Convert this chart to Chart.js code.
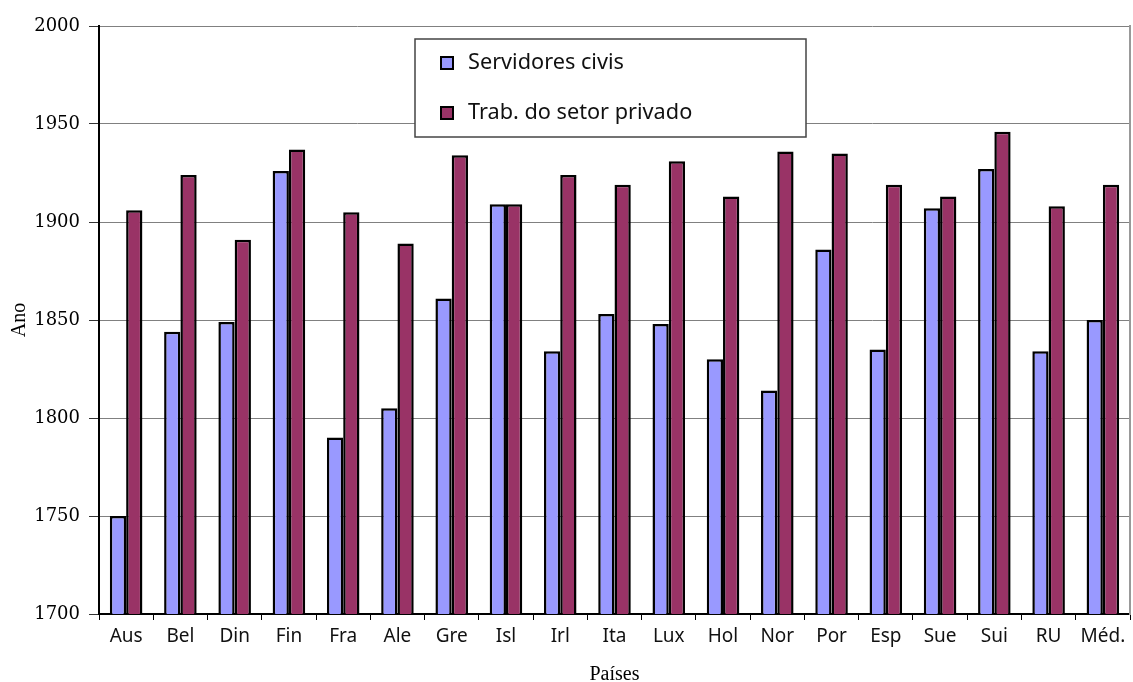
<!DOCTYPE html>
<html>
<head>
<meta charset="utf-8">
<script src="https://cdn.jsdelivr.net/npm/chart.js@4/dist/chart.umd.min.js"></script>
<style>
  html, body { margin: 0; padding: 0; background: #fff; }
  #wrap { width: 1133px; height: 682px; }
</style>
</head>
<body>
<div id="wrap"><canvas id="c" width="1133" height="682"></canvas></div>
<script>
// Países (categorias do eixo x)
const paises = ['Aus', 'Bel', 'Din', 'Fin', 'Fra', 'Ale', 'Gre', 'Isl', 'Irl', 'Ita',
                'Lux', 'Hol', 'Nor', 'Por', 'Esp', 'Sue', 'Sui', 'RU', 'Méd.'];

// Ano de referência por grupo
const servidoresCivis = [1750, 1844, 1849, 1926, 1790, 1805, 1861, 1909, 1834, 1853,
                         1848, 1830, 1814, 1886, 1835, 1907, 1927, 1834, 1850];
const setorPrivado    = [1906, 1924, 1891, 1937, 1905, 1889, 1934, 1909, 1924, 1919,
                         1931, 1913, 1936, 1935, 1919, 1913, 1946, 1908, 1919];

// Escala do eixo y
const anoMin = 1700;
const anoMax = 2000;
const anoPasso = 50;

const sansFont = "'Noto Sans', 'Open Sans', sans-serif";
const serifFont = "'Liberation Serif', 'DejaVu Serif', serif";
const serifWide = "'DejaVu Serif', 'Liberation Serif', serif";

// Legenda em caixa desenhada dentro da área do gráfico
const legendaCaixa = {
  id: 'legendaCaixa',
  afterDraw(chart) {
    const ctx = chart.ctx;
    const x = 415, y = 39, w = 391, h = 98;
    ctx.save();
    ctx.fillStyle = '#ffffff';
    ctx.fillRect(x, y, w, h);
    ctx.strokeStyle = '#444';
    ctx.lineWidth = 1.5;
    ctx.strokeRect(x, y, w, h);
    ctx.font = '21.7px ' + sansFont;
    ctx.textBaseline = 'middle';
    chart.data.datasets.forEach((ds, i) => {
      const cy = y + 24 + i * 50;
      ctx.fillStyle = ds.backgroundColor;
      ctx.fillRect(x + 26, cy - 6, 12, 12);
      ctx.strokeStyle = '#000';
      ctx.lineWidth = 2;
      ctx.strokeRect(x + 26, cy - 6, 12, 12);
      ctx.fillStyle = '#111';
      ctx.fillText(ds.label, x + 53, cy);
    });
    ctx.restore();
  }
};

new Chart(document.getElementById('c'), {
  type: 'bar',
  data: {
    labels: paises,
    datasets: [
      {
        label: 'Servidores civis',
        data: servidoresCivis,
        backgroundColor: '#9999FF',
        borderColor: '#000',
        borderWidth: 2.5,
        borderSkipped: 'bottom'
      },
      {
        label: 'Trab. do setor privado',
        data: setorPrivado,
        backgroundColor: '#993366',
        borderColor: '#000',
        borderWidth: 2.5,
        borderSkipped: 'bottom'
      }
    ]
  },
  options: {
    responsive: false,
    animation: false,
    layout: { padding: { top: 26, right: 3, left: 8, bottom: 0 } },
    datasets: { bar: { categoryPercentage: 0.6, barPercentage: 1.0 } },
    plugins: {
      legend: { display: false },
      tooltip: { enabled: false }
    },
    scales: {
      x: {
        afterFit: (s) => { s.height = 68; },
        grid: {
          display: true,
          drawOnChartArea: false,
          drawTicks: true,
          tickLength: 6,
          color: '#000',
          lineWidth: 1
        },
        border: { display: true, color: '#000', width: 2 },
        ticks: {
          color: '#111',
          font: { family: sansFont, size: 19 },
          padding: 5,
          maxRotation: 0,
          autoSkip: false
        },
        title: {
          display: true,
          text: 'Países',
          color: '#000',
          font: { family: serifFont, size: 20, lineHeight: 1 },
          padding: { top: 0, bottom: -3 }
        }
      },
      y: {
        afterFit: (s) => { s.width = 91; },
        min: anoMin,
        max: anoMax,
        grid: {
          color: '#808080',
          lineWidth: 1,
          drawTicks: true,
          tickLength: 10,
          tickColor: '#333'
        },
        border: { display: true, color: '#000', width: 2 },
        ticks: {
          stepSize: anoPasso,
          color: '#000',
          font: { family: serifWide, size: 18 },
          padding: 9,
          callback: (v) => String(v)
        },
        title: {
          display: true,
          text: 'Ano',
          color: '#000',
          font: { family: serifFont, size: 20 },
          padding: { top: 0, bottom: 10 }
        }
      },
      y2: {
        position: 'right',
        min: anoMin,
        max: anoMax,
        grid: { drawOnChartArea: false, drawTicks: false },
        border: { display: true, color: '#999', width: 2 },
        ticks: { display: false }
      }
    }
  },
  plugins: [legendaCaixa]
});
</script>
</body>
</html>
